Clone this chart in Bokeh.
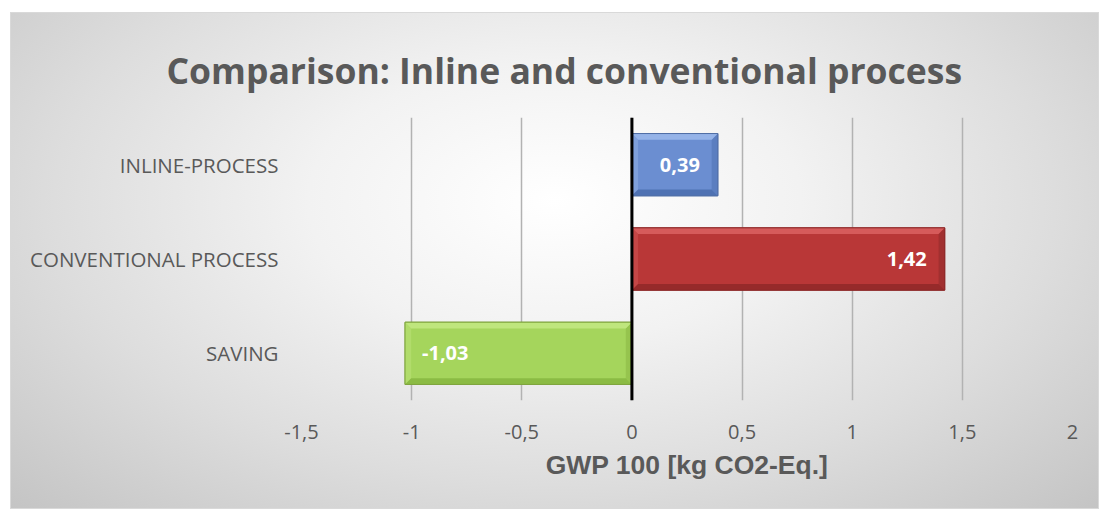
from bokeh.plotting import figure
from bokeh.models import ColumnDataSource, FixedTicker, Span
from bokeh.core.properties import value
from bokeh.embed import file_html
from bokeh.resources import INLINE

# --- data -------------------------------------------------------------
categories = ["INLINE-PROCESS", "CONVENTIONAL PROCESS", "SAVING"]
gwp_values = [0.39, 1.42, -1.03]
x_ticks = [-1.5, -1.0, -0.5, 0.0, 0.5, 1.0, 1.5, 2.0]
x_tick_labels = ["-1,5", "-1", "-0,5", "0", "0,5", "1", "1,5", "2"]

# --- styling ----------------------------------------------------------
body = ["#6b8ed1", "#b93737", "#a5d55c"]
edge_top = ["#95b3e8", "#d65b5b", "#bfe67d"]
edge_bot = ["#4f72b3", "#962a2a", "#8bbb44"]
edge_lft = ["#7fa0dc", "#c54646", "#b1dc6b"]
edge_rgt = ["#5b7ec0", "#a13030", "#96c44e"]
outline = ["#506ea6", "#8c2a2a", "#7fa53e"]
TEXT = "#595959"

n = len(categories)
# categories are listed top to bottom; y centres count up from the bottom
y_pos = [n - i - 0.5 for i in range(n)]
bar_h = 0.66
dx, dy = 0.028, 0.066  # bevel width in data units

p = figure(width=1089, height=497, x_range=(-1.5, 2.0), y_range=(0, n),
           output_backend="svg", toolbar_location=None,
           min_border_left=291, min_border_right=27,
           min_border_top=105, min_border_bottom=109)
p.margin = (12, 0, 0, 10)
p.styles = {
    "background": "radial-gradient(ellipse farthest-corner at 50% 38%, "
                  "#ffffff 0%, #f2f2f2 32%, #dddddd 65%, #c4c4c4 100%)",
    "box-shadow": "inset 0 0 0 1px #d9d9d9",
}
p.border_fill_color = None
p.background_fill_color = None
p.outline_line_color = None

# chart title
p.title.text = "Comparison: Inline and conventional process"
p.title.align = "left"
p.title.offset = -135
p.title.text_font = "Open Sans"
p.title.text_font_style = "bold"
p.title.text_font_size = "35.5px"
p.title.text_color = TEXT
p.title.standoff = 47

# bars
left = [min(0.0, v) for v in gwp_values]
right = [max(0.0, v) for v in gwp_values]
src = ColumnDataSource(dict(y=y_pos, left=left, right=right, body=body, outline=outline))
p.hbar(y="y", left="left", right="right", height=bar_h, source=src,
       fill_color="body", line_color="outline", line_width=1)

# bevelled edges built from each bar's extent
tx, ty, bx, by, lx, ly, rx, ry = [], [], [], [], [], [], [], []
for x0, x1, c in zip(left, right, y_pos):
    t, b = c + bar_h / 2, c - bar_h / 2
    tx.append([x0, x1, x1 - dx, x0 + dx]); ty.append([t, t, t - dy, t - dy])
    bx.append([x0, x1, x1 - dx, x0 + dx]); by.append([b, b, b + dy, b + dy])
    lx.append([x0, x0 + dx, x0 + dx, x0]); ly.append([b, b + dy, t - dy, t])
    rx.append([x1, x1 - dx, x1 - dx, x1]); ry.append([b, b + dy, t - dy, t])
for xs, ys, cols in ((lx, ly, edge_lft), (rx, ry, edge_rgt),
                     (tx, ty, edge_top), (bx, by, edge_bot)):
    p.patches(xs=xs, ys=ys, fill_color=cols, line_color=None)
p.hbar(y="y", left="left", right="right", height=bar_h, source=src,
       fill_color=None, line_color="outline", line_width=1)

# value labels inside the bar ends
lab = ColumnDataSource(dict(
    x=gwp_values, y=y_pos,
    txt=[f"{v:.2f}".replace(".", ",") for v in gwp_values],
    align=["right" if v >= 0 else "left" for v in gwp_values],
    off=[-18 if v >= 0 else 17 for v in gwp_values],
))
p.text(x="x", y="y", text="txt", source=lab, text_align="align", x_offset="off",
       text_baseline="middle", text_color="white", text_font=value("Open Sans"),
       text_font_style="bold", text_font_size="20px")

# zero line
p.add_layout(Span(location=0, dimension="height", line_color="black", line_width=3))

# axes
p.xaxis.ticker = FixedTicker(ticks=x_ticks)
p.xaxis.major_label_overrides = dict(zip(x_ticks, x_tick_labels))
p.xaxis.axis_line_color = None
p.xaxis.major_tick_line_color = None
p.xaxis.minor_tick_line_color = None
p.xaxis.major_label_text_font = "Open Sans"
p.xaxis.major_label_text_font_size = "20px"
p.xaxis.major_label_text_color = TEXT
p.xaxis.major_label_standoff = 18
p.xaxis.axis_label = "GWP 100 [kg CO2-Eq.]"
p.xaxis.axis_label_text_font = "Liberation Sans"
p.xaxis.axis_label_text_font_style = "bold"
p.xaxis.axis_label_text_font_size = "26.5px"
p.xaxis.axis_label_text_color = TEXT
p.xaxis.axis_label_standoff = 8

p.yaxis.ticker = FixedTicker(ticks=y_pos)
p.yaxis.major_label_overrides = dict(zip(y_pos, categories))
p.yaxis.axis_line_color = None
p.yaxis.major_tick_line_color = None
p.yaxis.minor_tick_line_color = None
p.yaxis.major_label_text_font = "Open Sans"
p.yaxis.major_label_text_font_size = "20.5px"
p.yaxis.major_label_text_color = TEXT
p.yaxis.major_label_standoff = 17

p.xgrid.ticker = FixedTicker(ticks=x_ticks)
p.xgrid.grid_line_color = "#b2b2b2"
p.xgrid.grid_line_width = 1.5
p.ygrid.grid_line_color = None

open("out.html", "w").write(file_html(p, INLINE))
